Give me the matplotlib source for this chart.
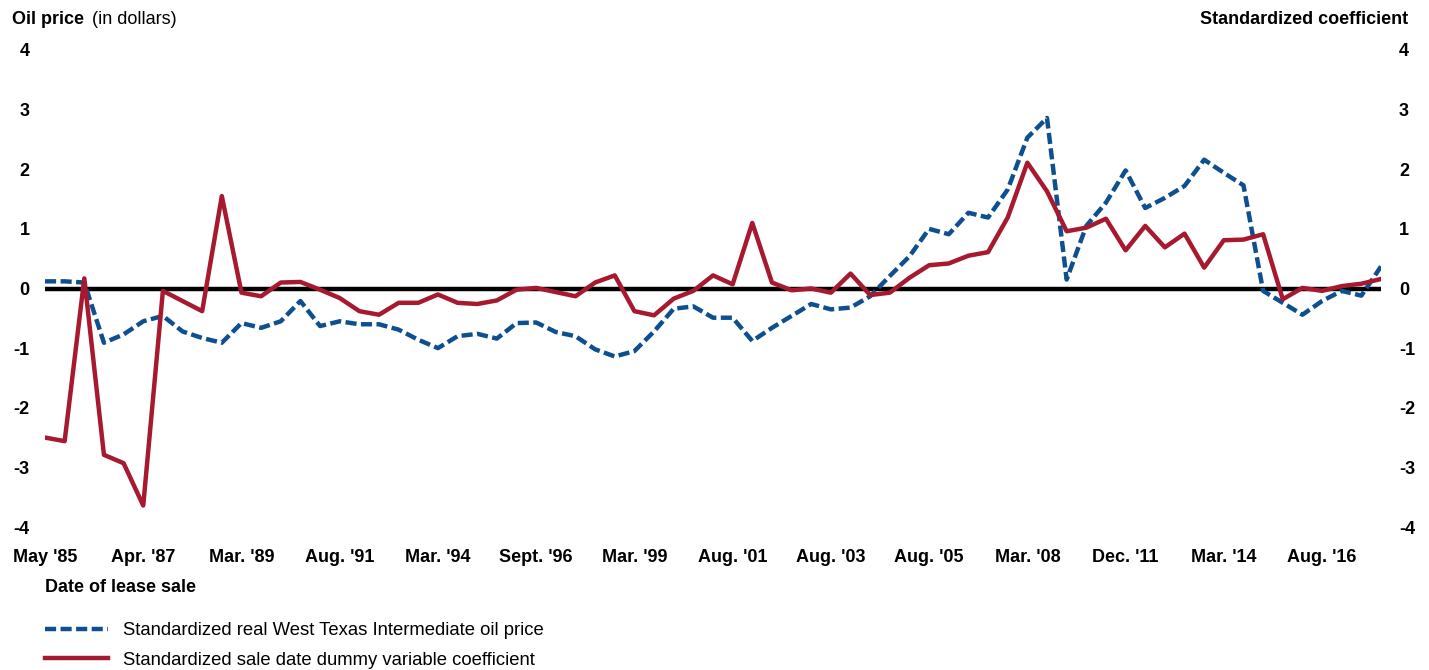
import matplotlib
matplotlib.use("Agg")
import matplotlib.pyplot as plt
import numpy as np

plt.rcParams['font.family'] = ['Liberation Sans', 'DejaVu Sans']

# one point per lease sale, tick label every fifth sale
tick_labels = ["May '85", "Apr. '87", "Mar. '89", "Aug. '91", "Mar. '94", "Sept. '96",
               "Mar. '99", "Aug. '01", "Aug. '03", "Aug. '05", "Mar. '08", "Dec. '11",
               "Mar. '14", "Aug. '16"]

oil_price = [0.12, 0.12, 0.10, -0.91, -0.77, -0.55, -0.46, -0.72, -0.83, -0.91,
             -0.58, -0.66, -0.55, -0.21, -0.63, -0.55, -0.60, -0.60, -0.69, -0.86,
             -1.00, -0.80, -0.76, -0.84, -0.58, -0.57, -0.73, -0.80, -1.02, -1.14,
             -1.05, -0.72, -0.34, -0.30, -0.49, -0.49, -0.88, -0.66, -0.46, -0.26,
             -0.35, -0.32, -0.13, 0.21, 0.54, 1.00, 0.91, 1.27, 1.19, 1.66,
             2.53, 2.86, 0.15, 1.05, 1.44, 1.98, 1.35, 1.52, 1.72, 2.16,
             1.94, 1.73, -0.04, -0.24, -0.44, -0.21, -0.04, -0.12, 0.37]

sale_coef = [-2.50, -2.56, 0.17, -2.79, -2.93, -3.64, -0.04, -0.21, -0.38, 1.55,
             -0.07, -0.13, 0.10, 0.11, -0.02, -0.16, -0.38, -0.44, -0.24, -0.24,
             -0.10, -0.24, -0.26, -0.20, -0.02, 0.01, -0.06, -0.13, 0.10, 0.22,
             -0.38, -0.45, -0.17, -0.04, 0.22, 0.07, 1.10, 0.10, -0.03, 0.00,
             -0.07, 0.25, -0.11, -0.07, 0.18, 0.39, 0.42, 0.55, 0.61, 1.19,
             2.11, 1.63, 0.96, 1.02, 1.17, 0.64, 1.05, 0.69, 0.92, 0.35,
             0.81, 0.82, 0.91, -0.18, 0.01, -0.04, 0.04, 0.08, 0.16]

yticks = [4, 3, 2, 1, 0, -1, -2, -3, -4]

BLUE = "#0E4F8F"
RED = "#A6192E"

x = np.arange(len(sale_coef))

fig = plt.figure(figsize=(14.29, 6.70), dpi=100)
ax = fig.add_axes([45 / 1429, 1 - 527 / 670, 1336 / 1429, 477 / 670])

ax.axhline(0, color="black", linewidth=3.2, zorder=1)
ax.plot(x, oil_price, color=BLUE, linewidth=3.2, linestyle=(0, (2.5, 1.0)),
        label="Standardized real West Texas Intermediate oil price", zorder=2)
ax.plot(x, sale_coef, color=RED, linewidth=3.2,
        label="Standardized sale date dummy variable coefficient", zorder=3)

ax.set_xlim(0, len(x) - 1)
ax.set_ylim(-4, 4)
ax.set_xticks(x[::5])
ax.set_xticklabels(tick_labels, fontsize=13, fontweight="bold")
ax.set_yticks(yticks)
ax.set_yticklabels([str(v) for v in yticks], fontsize=13, fontweight="bold")
ax.tick_params(axis="both", length=0)
ax.tick_params(axis="x", pad=15.5)
ax.tick_params(axis="y", pad=11)
for s in ax.spines.values():
    s.set_visible(False)

ax2 = ax.twinx()
ax2.set_ylim(-4, 4)
ax2.set_yticks(yticks)
ax2.set_yticklabels([str(v) for v in yticks], fontsize=13, fontweight="bold")
ax2.tick_params(axis="y", length=0, pad=13)
for s in ax2.spines.values():
    s.set_visible(False)

fig.text(12 / 1429, 1 - 20 / 670, "Oil price", fontsize=13, fontweight="bold", va="center")
fig.text(92 / 1429, 1 - 20 / 670, "(in dollars)", fontsize=13, va="center")
fig.text(1408 / 1429, 1 - 20 / 670, "Standardized coefficient", fontsize=13,
         fontweight="bold", va="center", ha="right")
fig.text(45 / 1429, 1 - 587 / 670, "Date of lease sale", fontsize=13,
         fontweight="bold", va="center")

fig.legend(loc="upper left", bbox_to_anchor=(45 / 1429, 1 - 622 / 670), frameon=False,
           fontsize=13.3, handlelength=3.4, handletextpad=0.8, labelspacing=0.7,
           borderaxespad=0, borderpad=0)

fig.savefig("out.png", dpi=100)
